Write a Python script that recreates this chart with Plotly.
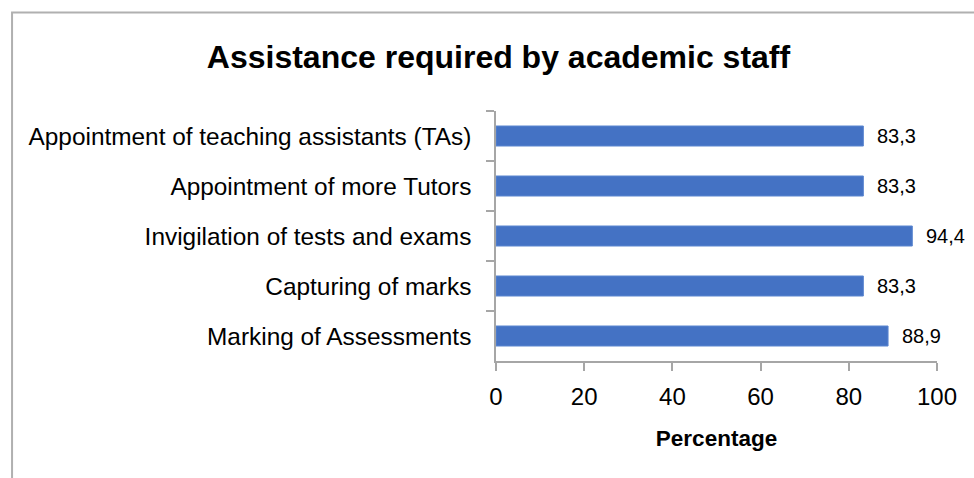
import plotly.graph_objects as go

# Categories listed top to bottom
categories = [
    "Appointment of teaching assistants (TAs)",
    "Appointment of more Tutors",
    "Invigilation of tests and exams",
    "Capturing of marks",
    "Marking of Assessments",
]
percentages = [83.3, 83.3, 94.4, 83.3, 88.9]
x_ticks = [0, 20, 40, 60, 80, 100]

W, H = 974, 478
ML, MR, MT, MB = 495.5, 37, 111, 117
FONT = "Liberation Sans"
AXIS_GREY = "#a6a6a6"

fig = go.Figure(
    go.Bar(
        x=percentages,
        y=categories,
        orientation="h",
        width=0.4,
        marker=dict(color="#4472C4", line=dict(color="#5b86d0", width=1)),
        hoverinfo="x+y",
    )
)

# Value labels with decimal comma
for cat, v in zip(categories, percentages):
    fig.add_annotation(
        x=v, y=cat, xref="x", yref="y",
        text=f"{v:.1f}".replace(".", ","),
        showarrow=False, xanchor="left", xshift=12,
        font=dict(family=FONT, size=20, color="#000000"),
    )

# Chart frame (top and left edges inside the view)
pw = W - ML - MR
ph = H - MT - MB
fx0 = (11 - ML) / pw
fy1 = (H - MB - 12.5) / ph
fig.add_shape(
    type="rect", xref="paper", yref="paper",
    x0=fx0, x1=(W + 20 - ML) / pw, y0=-(MB + 20) / ph, y1=fy1,
    line=dict(color="#b0b0b0", width=2), fillcolor="rgba(0,0,0,0)", layer="below",
)

fig.update_layout(
    width=W, height=H,
    margin=dict(l=ML, r=MR, t=MT, b=MB, pad=0),
    paper_bgcolor="white", plot_bgcolor="white",
    showlegend=False,
    title=dict(
        text="<b>Assistance required by academic staff</b>",
        x=498.5 / W, xanchor="center",
        y=1 - 57 / H, yanchor="middle",
        font=dict(family=FONT, size=32, color="#000000"),
    ),
    xaxis=dict(
        range=[0, 100], tickvals=x_ticks,
        showgrid=False, zeroline=False,
        showline=True, linecolor=AXIS_GREY, linewidth=1.5,
        ticks="outside", ticklen=8, tickcolor=AXIS_GREY, tickwidth=1.5,
        ticklabelstandoff=5,
        tickfont=dict(family=FONT, size=24, color="#000000"),
        title=dict(text="<b>Percentage</b>", standoff=22,
                   font=dict(family=FONT, size=22.5, color="#000000")),
    ),
    yaxis=dict(
        autorange="reversed",
        showgrid=False, zeroline=False,
        showline=True, linecolor=AXIS_GREY, linewidth=1.5,
        ticks="outside", ticklen=8, tickcolor=AXIS_GREY, tickwidth=1.5,
        tickson="boundaries",
        ticklabelstandoff=18,
        tickfont=dict(family=FONT, size=24.4, color="#000000"),
    ),
)

fig.write_html("out.html")
